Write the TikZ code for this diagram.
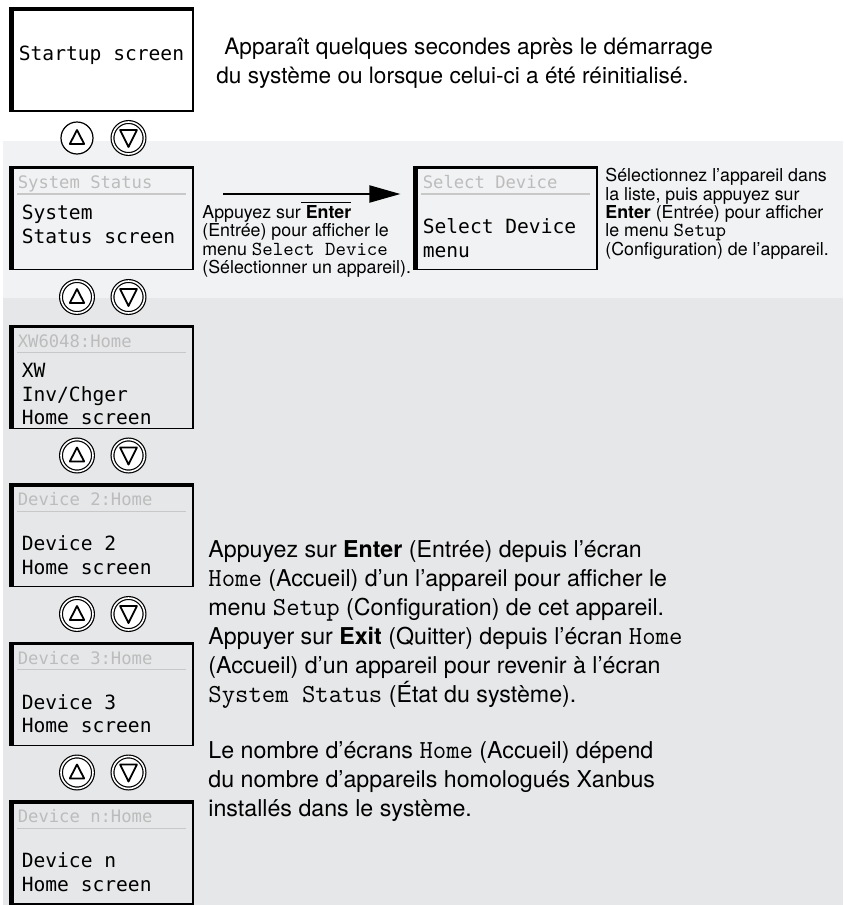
\documentclass[tikz,border=0pt]{standalone}
\usepackage{fontspec}
\setmainfont{TeX Gyre Heros}
\setmonofont{Latin Modern Mono}[Scale=1.12]
\newfontfamily\lcdfont{DejaVu Sans Mono}
\usetikzlibrary{positioning,arrows.meta}

\definecolor{bandlight}{HTML}{F1F2F3}
\definecolor{banddark}{HTML}{E6E7E8}
\definecolor{lcdgrey}{HTML}{BCBCBC}
\definecolor{hdrgrey}{HTML}{C8C8C8}

\tikzset{
  screen/.style={draw, line width=0.6pt, minimum width=91.5pt, minimum height=51.5pt, inner sep=0pt,
    path picture={
      \draw[line width=3.6pt] (path picture bounding box.south west) -- (path picture bounding box.north west);
      \draw[line width=2.8pt] (path picture bounding box.north west) -- (path picture bounding box.north east);}},
  hdr/.style={anchor=base west, inner sep=0pt, text=lcdgrey, font=\lcdfont\fontsize{8.6pt}{10pt}\selectfont},
  hdrline/.style={draw=hdrgrey, line width=0.6pt},
  lcd/.style={anchor=base west, inner sep=0pt, align=left, font=\lcdfont\fontsize{9.8pt}{11.8pt}\selectfont},
  btn/.style={circle, draw, fill=white, line width=0.6pt, minimum size=16pt, inner sep=0pt},
  btnring/.style={btn, double, double distance=0.8pt},
  upbtn/.style={path picture={\draw[line width=0.9pt, line join=round]
      ([shift={(-3.6pt,-3pt)}]path picture bounding box.center) -- ++(3.6pt,7pt) -- ++(3.6pt,-7pt) -- cycle;}},
  downbtn/.style={path picture={\draw[line width=0.9pt, line join=round]
      ([shift={(-4.2pt,4pt)}]path picture bounding box.center) -- ++(4.2pt,-8.5pt) -- ++(4.2pt,8.5pt) -- cycle;}},
  txt/.style={anchor=north west, inner sep=0pt, align=left, font=\fontsize{11.6pt}{14.5pt}\selectfont},
  note/.style={txt, font=\fontsize{8.9pt}{9.2pt}\selectfont}
}

\begin{document}
\begin{tikzpicture}[x=0.5pt, y=-0.5pt, node distance=79.3pt]
  \useasboundingbox (0,0) rectangle (843,905);
  % background bands
  \fill[bandlight] (3,141) rectangle (843,298);
  \fill[banddark] (3,298) rectangle (843,905);

  % screens
  \node[screen, font=\lcdfont\fontsize{9.8pt}{11pt}\selectfont] (start) at (101.5,59.5) {\raisebox{2pt}[7pt][2pt]{Startup screen}};
  \node[screen, below of=start] (sys) {};
  \node[screen, below of=sys] (xw) {};
  \node[screen, below of=xw] (dev2) {};
  \node[screen, below of=dev2] (dev3) {};
  \node[screen, below of=dev3] (devn) {};
  \node[screen, right of=sys, node distance=202pt] (sel) {};

  \node[hdr] (sys-h) at ([shift={(8,22.5)}]sys.north west) {System Status};
  \draw[hdrline] ([shift={(8,28)}]sys.north west) -- ([shift={(-8,28)}]sys.north east);
  \node[lcd] (sys-t) at ([shift={(12,77)}]sys.north west) {System\\Status screen};

  \node[hdr] (sel-h) at ([shift={(9,22.5)}]sel.north west) {Select Device};
  \draw[hdrline] ([shift={(8,28)}]sel.north west) -- ([shift={(-8,28)}]sel.north east);
  \node[lcd] (sel-t) at ([shift={(9,91)}]sel.north west) {Select Device\\menu};

  \node[hdr] (xw-h) at ([shift={(8,22.5)}]xw.north west) {XW6048:Home};
  \draw[hdrline] ([shift={(8,28)}]xw.north west) -- ([shift={(-8,28)}]xw.north east);
  \node[lcd] (xw-t) at ([shift={(12,100)}]xw.north west) {XW\\Inv/Chger\\Home screen};

  \node[hdr] (dev2-h) at ([shift={(8,22.5)}]dev2.north west) {Device 2:Home};
  \draw[hdrline] ([shift={(8,28)}]dev2.north west) -- ([shift={(-8,28)}]dev2.north east);
  \node[lcd] (dev2-t) at ([shift={(12,91)}]dev2.north west) {Device 2\\Home screen};

  \node[hdr] (dev3-h) at ([shift={(8,22.5)}]dev3.north west) {Device 3:Home};
  \draw[hdrline] ([shift={(8,28)}]dev3.north west) -- ([shift={(-8,28)}]dev3.north east);
  \node[lcd] (dev3-t) at ([shift={(12,91)}]dev3.north west) {Device 3\\Home screen};

  \node[hdr] (devn-h) at ([shift={(8,22.5)}]devn.north west) {Device n:Home};
  \draw[hdrline] ([shift={(8,28)}]devn.north west) -- ([shift={(-8,28)}]devn.north east);
  \node[lcd] (devn-t) at ([shift={(12,91)}]devn.north west) {Device n\\Home screen};

  % up / down buttons
  \node[btn, upbtn] (u1) at (77,138) {};
  \node[btnring, downbtn] (d1) at (128.5,138) {};
  \foreach \y [count=\i from 2] in {297,455.5,614,772.5} {
    \node[btnring, upbtn] (u\i) at (77,\y) {};
    \node[btnring, downbtn] (d\i) at (128.5,\y) {};
  }

  % arrow to the device list
  \coordinate (arrstart) at (223,194);
  \draw[line width=1pt, -{Triangle[length=15.5pt,width=8.5pt]}, shorten >=6.5pt] (arrstart) -- (arrstart -| sel.west);

  % texts
  \node[txt, font=\fontsize{11.3pt}{14.5pt}\selectfont] (intro) at (216,38) {\hspace*{4pt}Apparaît quelques secondes après le démarrage\\du système ou lorsque celui-ci a été réinitialisé.};
  \node[note] (enter-note) at (202,205) {Appuyez sur\smash{$\overline{\hbox{ \textbf{Enter}}}$}\\(Entrée) pour afficher le\\menu \texttt{Select Device}\\(Sélectionner un appareil).};
  \node[note] (select-note) at (605,168) {Sélectionnez l’appareil dans\\la liste, puis appuyez sur\\\textbf{Enter} (Entrée) pour afficher\\le menu \texttt{Setup}\\(Configuration) de l’appareil.};
  \node[txt] (home-note) at (208,540) {Appuyez sur \textbf{Enter} (Entrée) depuis l’écran\\\texttt{Home} (Accueil) d’un l’appareil pour afficher le\\menu \texttt{Setup} (Configuration) de cet appareil.\\Appuyer sur \textbf{Exit} (Quitter) depuis l’écran \texttt{Home}\\(Accueil) d’un appareil pour revenir à l’écran\\\texttt{System Status} (État du système).};
  \node[txt] (count-note) at (208,741) {Le nombre d’écrans \texttt{Home} (Accueil) dépend\\du nombre d’appareils homologués Xanbus\\installés dans le système.};
\end{tikzpicture}
\end{document}
